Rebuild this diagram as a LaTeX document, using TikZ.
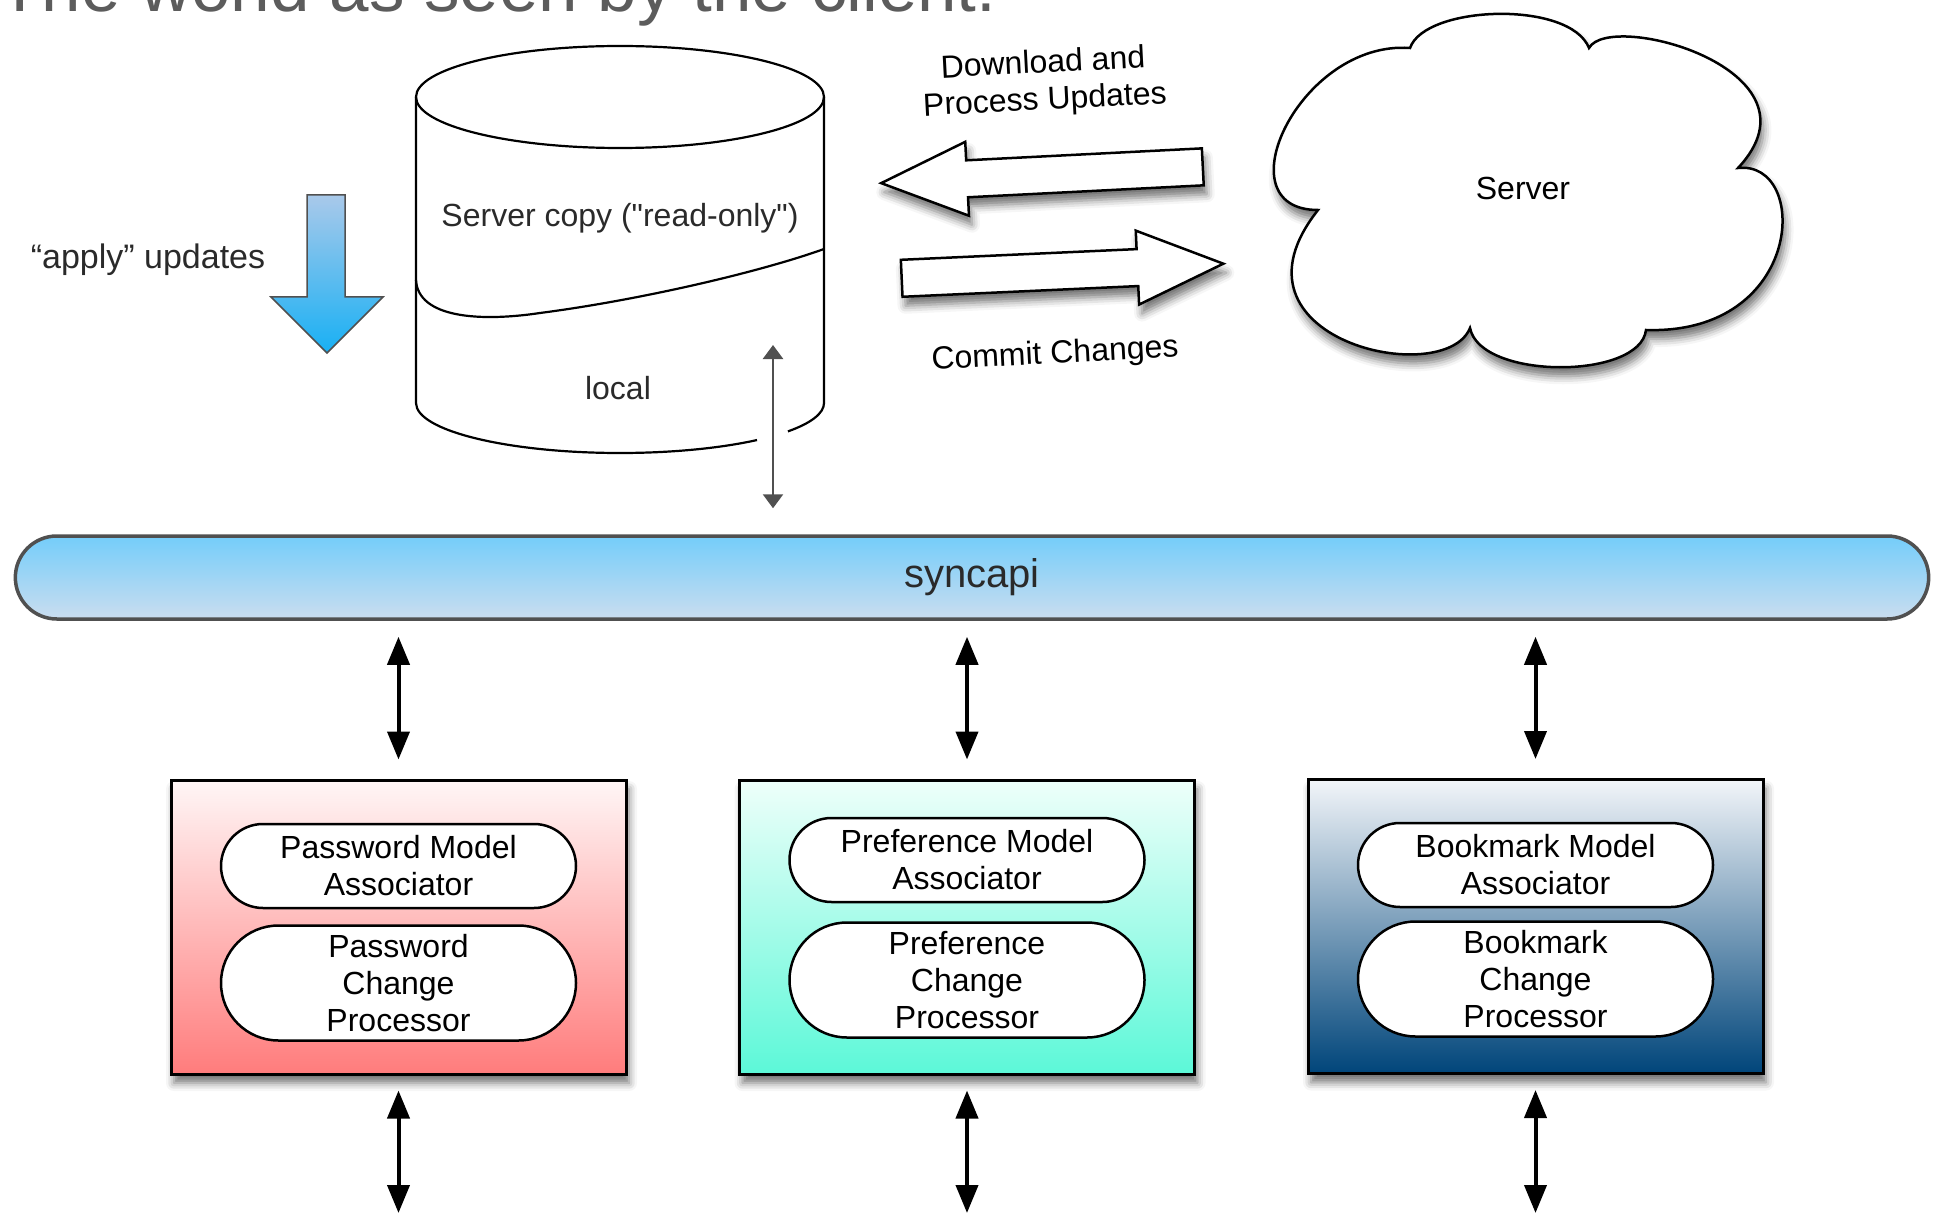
\documentclass[tikz,border=0pt]{standalone}
\usepackage{fontspec}
\setmainfont{Liberation Sans}
\newfontfamily\plainfont{Liberation Sans}
\usepackage{tikz}
\usetikzlibrary{arrows.meta}
\usetikzlibrary{positioning}
\usetikzlibrary{shapes.misc}
\usetikzlibrary{shadows.blur}

\newcommand*{\titlefont}{\fontsize{71}{80}\selectfont}
\newcommand*{\labelfont}{\fontsize{32}{37}\selectfont}
\newcommand*{\sidefont}{\fontsize{34}{39}\selectfont}
\newcommand*{\busfont}{\fontsize{40}{46}\selectfont}

\definecolor{titlegrey}{HTML}{5C5C5C}
\definecolor{textgrey}{HTML}{2A2A2A}
\definecolor{linegrey}{HTML}{505050}
\definecolor{bustop}{HTML}{74CDFA}
\definecolor{busbottom}{HTML}{CADDEF}
\definecolor{applytop}{HTML}{A9C9EA}
\definecolor{applybottom}{HTML}{18B0F4}
\definecolor{pwtop}{HTML}{FFF6F6}
\definecolor{pwbottom}{HTML}{FF7C7C}
\definecolor{preftop}{HTML}{EEFFFA}
\definecolor{prefbottom}{HTML}{5CF8D8}
\definecolor{bmtop}{HTML}{F2F5F9}
\definecolor{bmbottom}{HTML}{00457A}

\tikzstyle{sheet}=[x=1pt, y=-1pt]
\tikzstyle{softshadow}=[blur shadow={shadow xshift=3pt, shadow yshift=-9pt, shadow blur radius=8pt, shadow opacity=55}]
\tikzstyle{fatarrow}=[draw=black, fill=white, line width=2.5pt, line join=miter, softshadow]
\tikzstyle{cloudline}=[draw=black, fill=white, line width=2.5pt, softshadow]
\tikzstyle{applyarrow}=[draw=linegrey, line width=1.5pt, top color=applytop, bottom color=applybottom]
\tikzstyle{bus}=[rounded rectangle, draw=linegrey, line width=3.5pt, top color=bustop, bottom color=busbottom, minimum width=1920pt, minimum height=83pt, font=\busfont, text=textgrey]
\tikzstyle{module}=[draw=black, line width=3pt, minimum width=455pt, minimum height=294pt, inner sep=0pt, softshadow]
\tikzstyle{pill}=[rounded rectangle, draw=black, fill=white, line width=2.5pt, minimum width=355pt, inner sep=0pt, align=center, font=\labelfont]
\tikzstyle{updown}=[black, line width=4pt, {Triangle[length=28pt,width=22pt]}-{Triangle[length=28pt,width=22pt]}]
\tikzstyle{tapline}=[linegrey, line width=2.5pt, {Triangle[length=14pt,width=20pt]}-{Triangle[length=14pt,width=20pt]}]

\begin{document}
\begin{tikzpicture}[sheet]
    \useasboundingbox (0,0) rectangle (1940,1214);

    % heading, cut by the top edge
    \node [anchor=base west, inner sep=0pt, titlegrey, font=\titlefont] (heading) at (-2,12) {The world as seen by the client.};

    % local store
    \draw [line width=2.2pt] (620,97) ellipse [x radius=204, y radius=51];
    \draw [line width=2.2pt] (416,97) -- (416,403) arc [start angle=180, end angle=47.8, x radius=204, y radius=50];
    \draw [line width=2.2pt] (824,97) -- (824,403) arc [start angle=0, end angle=34.6, x radius=204, y radius=50];
    \draw [line width=2.2pt] (416,280) .. controls (418,318) and (480,322) .. (540,313) .. controls (640,300) and (760,272) .. (824,249);
    \node [font=\labelfont, textgrey] (servercopy) at (620,218) {\plainfont Server copy ("read-only")};
    \node [font=\labelfont, textgrey] (localcopy) at (618,388) {local};

    % apply
    \draw [applyarrow] (307,195) -- (345,195) -- (345,297) -- (383,297) -- (327,353) -- (271,297) -- (307,297) -- cycle;
    \node [font=\sidefont, textgrey] (applylabel) at (148,260) {“apply” updates};

    % server traffic
    \draw [fatarrow, rotate around={2.9:(1042,175)}] (881,175) -- (967,138) -- (967,156.5) -- (1203,156.5) -- (1203,193.5) -- (967,193.5) -- (967,212) -- cycle;
    \draw [fatarrow, rotate around={2.6:(1062.5,271)}] (901.5,252.5) -- (1137.5,252.5) -- (1137.5,234) -- (1223.5,271) -- (1137.5,308) -- (1137.5,289.5) -- (901.5,289.5) -- cycle;
    \node [font=\labelfont, align=center, rotate=3] (downloadlabel) at (1044,83) {Download and\\Process Updates};
    \node [font=\labelfont, rotate=3] (commitlabel) at (1055,355) {Commit Changes};

    % server cloud
    \draw [cloudline] (1410,48) .. controls (1425,5) and (1570,0) .. (1589,48)
        .. controls (1610,10) and (1830,70) .. (1738,168)
        .. controls (1810,160) and (1805,335) .. (1646,330)
        .. controls (1640,380) and (1480,380) .. (1470,328)
        .. controls (1445,390) and (1215,340) .. (1318,210)
        .. controls (1220,210) and (1300,40) .. (1410,48) -- cycle;
    \node [font=\labelfont] (server) at (1523,188) {Server};

    % syncapi
    \node [bus] (syncapi) at (972,577.5) {syncapi};
    \draw [tapline, shorten >=26pt] (773,345) -- (773,345 |- syncapi.north);

    % modules
    \node [module, top color=pwtop, bottom color=pwbottom] (pwbox) at (398.5,927) {};
    \node [module, top color=preftop, bottom color=prefbottom] (prefbox) at (967,927) {};
    \node [module, top color=bmtop, bottom color=bmbottom] (bmbox) at (1535.5,926.5) {};

    \node [pill, minimum height=84pt] (pwassoc) at (398.5,866) {Password Model\\Associator};
    \node [pill, minimum height=115pt] (pwproc) at (398.5,983) {Password\\Change\\Processor};
    \node [pill, minimum height=84pt] (prefassoc) at (967,860) {Preference Model\\Associator};
    \node [pill, minimum height=115pt] (prefproc) at (967,980) {Preference\\Change\\Processor};
    \node [pill, minimum height=84pt] (bmassoc) at (1535.5,865) {Bookmark Model\\Associator};
    \node [pill, minimum height=115pt] (bmproc) at (1535.5,979) {Bookmark\\Change\\Processor};

    % links
    \draw [updown, shorten <=16pt, shorten >=19pt] (pwbox.north |- syncapi.south) -- (pwbox.north);
    \draw [updown, shorten <=16pt, shorten >=19pt] (prefbox.north |- syncapi.south) -- (prefbox.north);
    \draw [updown, shorten <=16pt, shorten >=19pt] (bmbox.north |- syncapi.south) -- (bmbox.north);
    \coordinate (pwout) at (398.5,1213);
    \coordinate (prefout) at (967,1213);
    \coordinate (bmout) at (1535.5,1213);
    \draw [updown, shorten <=15pt] (pwbox.south) -- (pwout);
    \draw [updown, shorten <=15pt] (prefbox.south) -- (prefout);
    \draw [updown, shorten <=15pt] (bmbox.south) -- (bmout);
\end{tikzpicture}
\end{document}
